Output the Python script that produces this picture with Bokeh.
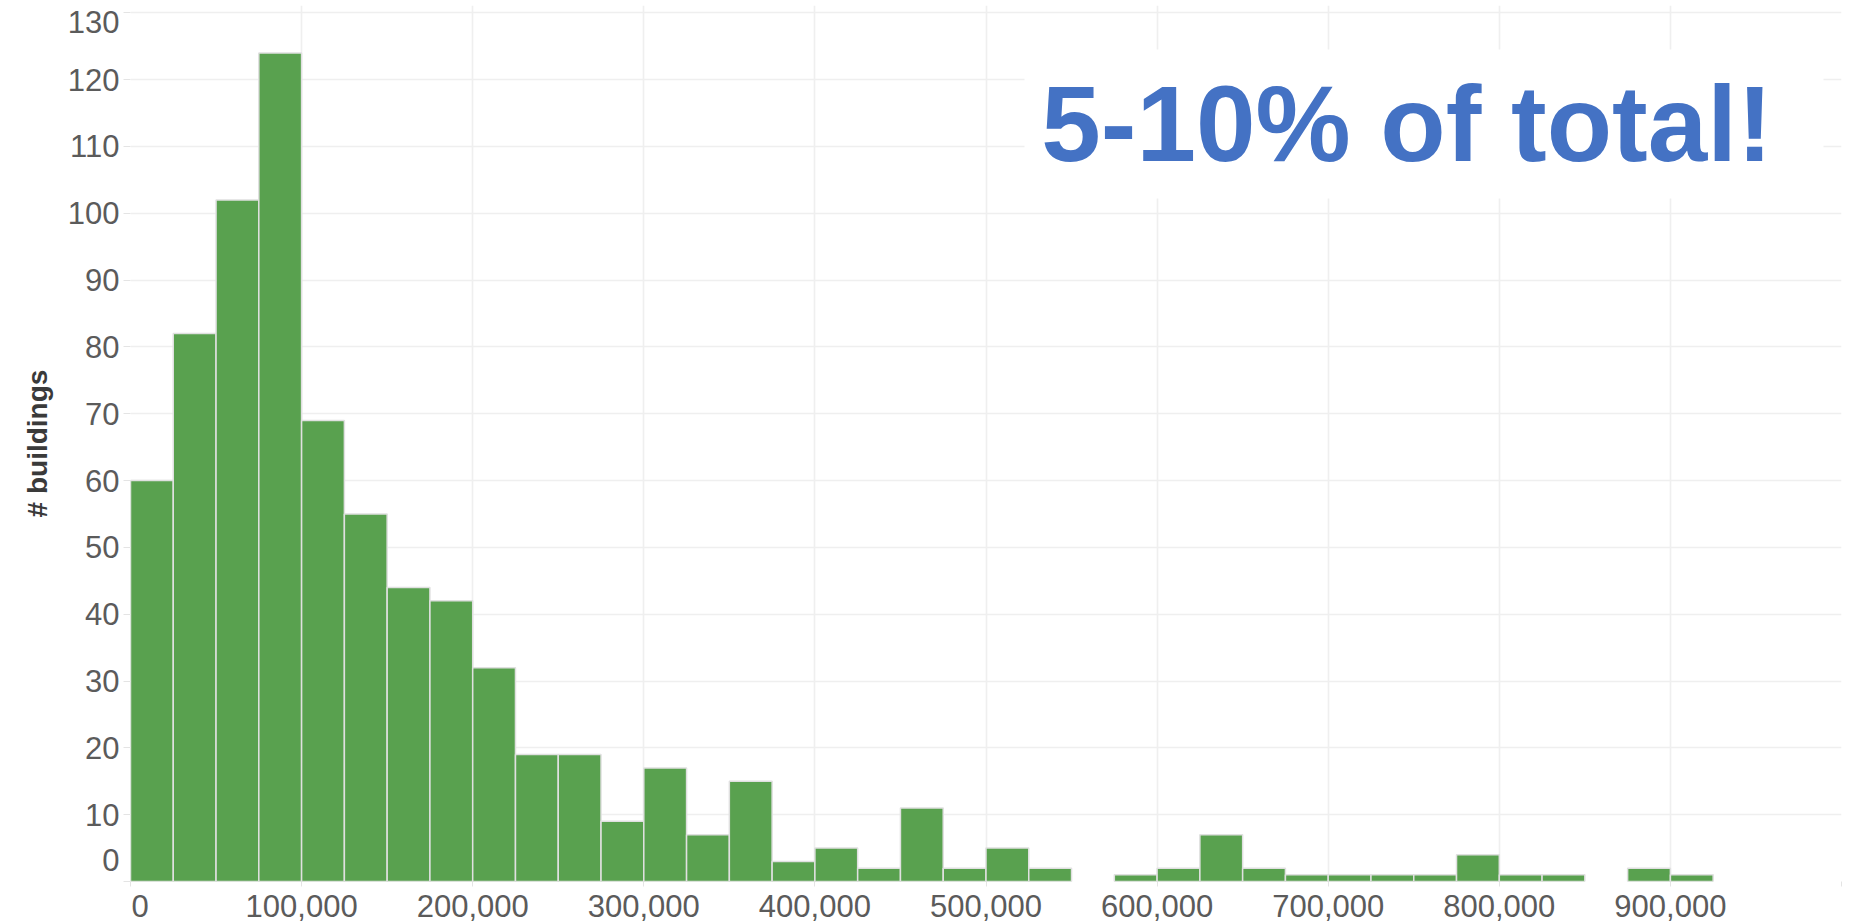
from bokeh.plotting import figure
from bokeh.models import Range1d, FixedTicker, NumeralTickFormatter, Label, BoxAnnotation, ColumnDataSource
from bokeh.core.properties import value
from bokeh.embed import file_html
from bokeh.resources import INLINE

# ---- data ----
bin_width = 25000
bin_start = [0, 25000, 50000, 75000, 100000, 125000, 150000, 175000, 200000, 225000,
             250000, 275000, 300000, 325000, 350000, 375000, 400000, 425000, 450000, 475000,
             500000, 525000, 550000, 575000, 600000, 625000, 650000, 675000, 700000, 725000,
             750000, 775000, 800000, 825000, 850000, 875000, 900000]
counts = [60, 82, 102, 124, 69, 55, 44, 42, 32, 19,
          19, 9, 17, 7, 15, 3, 5, 2, 11, 2,
          5, 2, 0, 1, 2, 7, 2, 1, 1, 1,
          1, 4, 1, 1, 0, 2, 1]
x_ticks = [0, 100000, 200000, 300000, 400000, 500000, 600000, 700000, 800000, 900000, 1000000]
y_ticks = [0, 10, 20, 30, 40, 50, 60, 70, 80, 90, 100, 110, 120, 130]
y_label = "# buildings"
note = "5-10% of total!"

FONT = "Liberation Sans"
TICK_COLOR = "#5b5b5b"
GRID_COLOR = "#efefef"
Y_TOP = 131.1
X_TICK_OUT, X_STANDOFF = 5, 8
Y_TICK_OUT, Y_STANDOFF = 7, 4

left = [s for s, c in zip(bin_start, counts) if c > 0]
right = [s + bin_width for s, c in zip(bin_start, counts) if c > 0]
top = [c for c in counts if c > 0]
src = ColumnDataSource(dict(left=left, right=right, top=top, bottom=[0] * len(top)))

p = figure(width=1851, height=922, output_backend="svg", toolbar_location=None,
           x_range=Range1d(0, 1000000), y_range=Range1d(0, Y_TOP),
           min_border_left=130, min_border_right=10, min_border_top=5, min_border_bottom=41)
p.outline_line_color = None
p.background_fill_color = "white"

p.quad(left="left", right="right", top="top", bottom="bottom", source=src,
       fill_color="#59a14f", line_color="#e0e0e0", line_width=1.5)

# grids
p.xgrid.ticker = FixedTicker(ticks=x_ticks)
p.ygrid.ticker = FixedTicker(ticks=y_ticks)
for g in (p.xgrid, p.ygrid):
    g.grid_line_color = GRID_COLOR
    g.grid_line_width = 1.6

# x axis
xa = p.xaxis[0]
xa.ticker = FixedTicker(ticks=x_ticks)
xa.formatter = NumeralTickFormatter(format="0,0")
xa.major_label_overrides = {0: "", 1000000: ""}
xa.axis_line_color = None
xa.major_tick_line_color = "#e4e4e4"
xa.major_tick_out = X_TICK_OUT
xa.major_tick_in = 0
xa.minor_tick_line_color = None
xa.major_label_standoff = X_STANDOFF
xa.major_label_text_font = FONT
xa.major_label_text_font_size = "31px"
xa.major_label_text_color = TICK_COLOR

# y axis
ya = p.yaxis[0]
ya.ticker = FixedTicker(ticks=y_ticks)
ya.major_label_overrides = {0: "", 130: ""}
ya.axis_line_color = None
ya.major_tick_line_color = "#e4e4e4"
ya.major_tick_out = Y_TICK_OUT
ya.major_tick_in = 0
ya.minor_tick_line_color = None
ya.major_label_standoff = Y_STANDOFF
ya.major_label_text_font = FONT
ya.major_label_text_font_size = "31px"
ya.major_label_text_color = TICK_COLOR
ya.axis_label = y_label
ya.axis_label_text_font = FONT
ya.axis_label_text_font_style = "bold"
ya.axis_label_text_font_size = "28px"
ya.axis_label_text_color = "#3a3a3a"
ya.axis_label_standoff = 12

# flush end labels of the axes (drawn at overlay level so they are not clipped)
yoff = -(Y_TICK_OUT + Y_STANDOFF)
end_src = ColumnDataSource(dict(
    x=[x_ticks[0], x_ticks[0], x_ticks[0]],
    y=[y_ticks[0], Y_TOP, y_ticks[0]],
    text=[str(y_ticks[0]), str(y_ticks[-1]), "0"],
    align=["right", "right", "left"],
    baseline=["bottom", "top", "top"],
    xo=[yoff, yoff, 1],
    yo=[-11, 5, X_TICK_OUT + X_STANDOFF],
))
p.text(x="x", y="y", text="text", source=end_src, text_align="align", text_baseline="baseline",
       x_offset="xo", y_offset="yo", text_font=value(FONT), text_font_size="31px",
       text_color=TICK_COLOR, level="overlay")

# annotation box + text
p.add_layout(BoxAnnotation(left=522500, right=989500, top=124.5, bottom=102.2,
                           fill_color="white", fill_alpha=1.0, line_color=None))
p.add_layout(Label(x=746000, y=113.3, text=note, text_align="center", text_baseline="middle",
                   text_font=FONT, text_font_style="bold", text_font_size="107px",
                   text_color="#4472c4"))

open("out.html", "w").write(file_html(p, INLINE))
